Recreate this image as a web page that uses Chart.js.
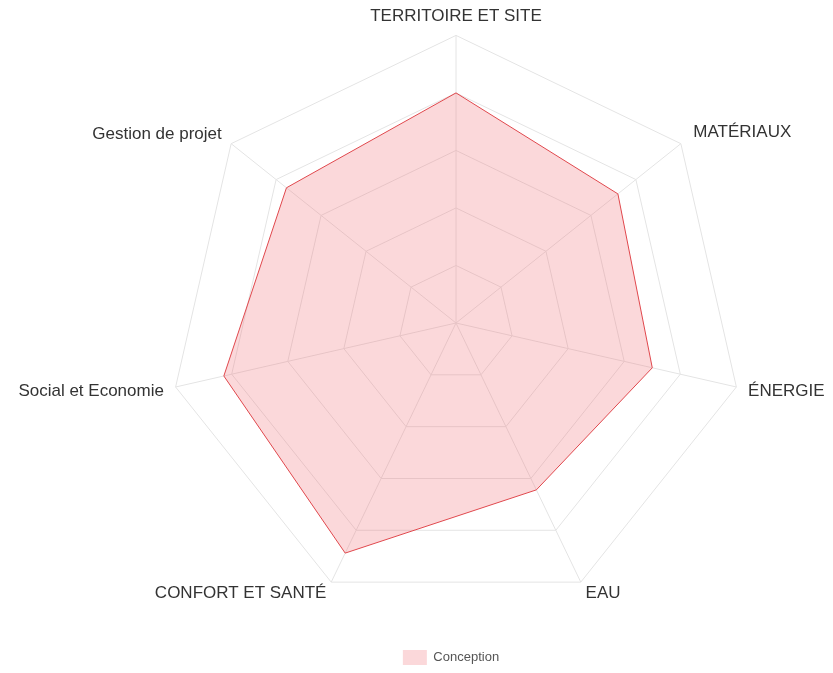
<!DOCTYPE html>
<html>
<head>
<meta charset="utf-8">
<script src="https://cdn.jsdelivr.net/npm/chart.js@4"></script>
<style>
  html, body { margin: 0; padding: 0; background: #fff; overflow: hidden; }
  #clip { position: relative; width: 833px; height: 673px; overflow: hidden; }
  #wrap { position: absolute; left: 5px; top: 0; width: 892px; height: 675px; }
</style>
</head>
<body>
<div id="clip"><div id="wrap"><canvas id="radar"></canvas></div></div>
<script>
const CATEGORIES = [
  'TERRITOIRE ET SITE',
  'MATÉRIAUX',
  'ÉNERGIE',
  'EAU',
  'CONFORT ET SANTÉ',
  'Social et Economie',
  'Gestion de projet'
];
const CONCEPTION = [4, 3.6, 3.5, 3.22, 4.44, 4.14, 3.77];
const SCALE_MAX = 5;
// distance between the outer ring and each axis label
const LABEL_GAP = [17, 16, 12, 11, 11, 12, 12];

const ctx = document.getElementById('radar');
new Chart(ctx, {
  type: 'radar',
  data: {
    labels: CATEGORIES,
    datasets: [{
      label: 'Conception',
      data: CONCEPTION,
      backgroundColor: 'rgba(240, 110, 120, 0.27)',
      borderColor: '#e0474c',
      borderWidth: 1,
      pointRadius: 0
    }]
  },
  options: {
    responsive: true,
    maintainAspectRatio: false,
    animation: false,
    layout: { padding: { top: 5 } },
    scales: {
      r: {
        min: 0,
        max: SCALE_MAX,
        ticks: { stepSize: 1, display: false },
        grid: { color: '#e4e4e4' },
        angleLines: { color: '#e4e4e4' },
        pointLabels: {
          color: '#333',
          padding: (c) => LABEL_GAP[c.index],
          font: { family: 'Liberation Sans, Arial, sans-serif', size: 17, lineHeight: 0.2 }
        }
      }
    },
    plugins: {
      legend: {
        position: 'bottom',
        labels: {
          boxWidth: 24,
          boxHeight: 15,
          padding: 28,
          color: '#555',
          font: { family: 'Liberation Sans, Arial, sans-serif', size: 13 },
          generateLabels(chart) {
            const items = Chart.defaults.plugins.legend.labels.generateLabels(chart);
            items.forEach(it => { it.lineWidth = 0; });
            return items;
          }
        }
      },
      tooltip: { enabled: false }
    }
  }
});
</script>
</body>
</html>
